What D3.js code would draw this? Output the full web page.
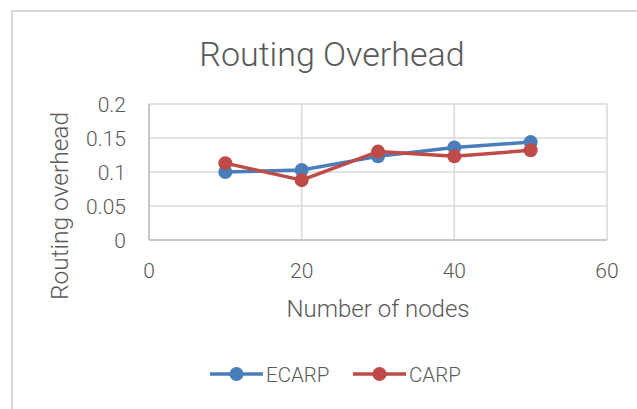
<!DOCTYPE html>
<html><head><meta charset="utf-8">
<script src="https://cdn.jsdelivr.net/npm/d3@7"></script>
<style>
html,body{margin:0;padding:0;background:#fff;}
text{font-family:Roboto,"Liberation Sans",sans-serif;font-weight:300;fill:#595959;}
</style></head>
<body><svg id="c" width="637" height="409"></svg>
<script>
const nodes = [10, 20, 30, 40, 50];
const ecarp = [0.100, 0.103, 0.123, 0.136, 0.144];
const carp  = [0.113, 0.088, 0.130, 0.123, 0.132];
const xTicks = [0, 20, 40, 60];
const yTicks = [0, 0.05, 0.1, 0.15, 0.2];
const seriesNames = ["ECARP", "CARP"];
const colors = ["#4a7ebb", "#be4b48"];

const svg = d3.select("#c");
svg.append("rect").attr("x", 12).attr("y", 11).attr("width", 640).attr("height", 420)
  .attr("fill", "#fff").attr("stroke", "#d9d9d9").attr("stroke-width", 2);

const x = d3.scaleLinear().domain([0, 60]).range([149, 607]);
const y = d3.scaleLinear().domain([0, 0.2]).range([240, 104]);

// gridlines
svg.append("g").selectAll("line").data(yTicks).join("line")
  .attr("x1", 149).attr("x2", 607).attr("y1", d => y(d)).attr("y2", d => y(d))
  .attr("stroke", "#d9d9d9").attr("stroke-width", 1.5);
svg.append("g").selectAll("line").data(xTicks).join("line")
  .attr("y1", 104).attr("y2", 240).attr("x1", d => x(d)).attr("x2", d => x(d))
  .attr("stroke", "#d9d9d9").attr("stroke-width", 1.5);
// axis lines
svg.append("line").attr("x1", 149).attr("x2", 607).attr("y1", 240).attr("y2", 240).attr("stroke", "#bfbfbf").attr("stroke-width", 1.5);
svg.append("line").attr("x1", 149).attr("x2", 149).attr("y1", 104).attr("y2", 240).attr("stroke", "#bfbfbf").attr("stroke-width", 1.5);

// tick labels
svg.append("g").selectAll("text").data(yTicks).join("text")
  .attr("x", 126).attr("y", d => y(d)).attr("dy", "0.36em").attr("text-anchor", "end")
  .attr("font-size", 21).text(d => String(d));
svg.append("g").selectAll("text").data(xTicks).join("text")
  .attr("x", d => x(d)).attr("y", 278).attr("text-anchor", "middle")
  .attr("font-size", 21).text(d => d);

// titles
svg.append("text").attr("x", 332).attr("y", 66).attr("text-anchor", "middle")
  .attr("font-size", 34).text("Routing Overhead");
svg.append("text").attr("x", 378).attr("y", 317).attr("text-anchor", "middle")
  .attr("font-size", 24).text("Number of nodes");
svg.append("text").attr("transform", "translate(68,206) rotate(-90)").attr("text-anchor", "middle")
  .attr("font-size", 24.5).text("Routing overhead");

// series
const line = d3.line().x((d, i) => x(nodes[i])).y(d => y(d));
[ecarp, carp].forEach((vals, k) => {
  const g = svg.append("g");
  g.append("path").datum(vals).attr("d", line).attr("fill", "none")
    .attr("stroke", colors[k]).attr("stroke-width", 3.5).attr("stroke-linejoin", "round");
  g.selectAll("circle").data(vals).join("circle")
    .attr("cx", (d, i) => x(nodes[i])).attr("cy", d => y(d)).attr("r", 7)
    .attr("fill", colors[k]);
});

// legend
const leg = [{x0: 210, name: seriesNames[0], c: colors[0]}, {x0: 353, name: seriesNames[1], c: colors[1]}];
leg.forEach(l => {
  svg.append("line").attr("x1", l.x0).attr("x2", l.x0 + 53).attr("y1", 374).attr("y2", 374)
    .attr("stroke", l.c).attr("stroke-width", 3.5);
  svg.append("circle").attr("cx", l.x0 + 26.5).attr("cy", 374).attr("r", 7).attr("fill", l.c);
  svg.append("text").attr("x", l.x0 + 56).attr("y", 382).attr("font-size", 20.5).text(l.name);
});
</script></body></html>
